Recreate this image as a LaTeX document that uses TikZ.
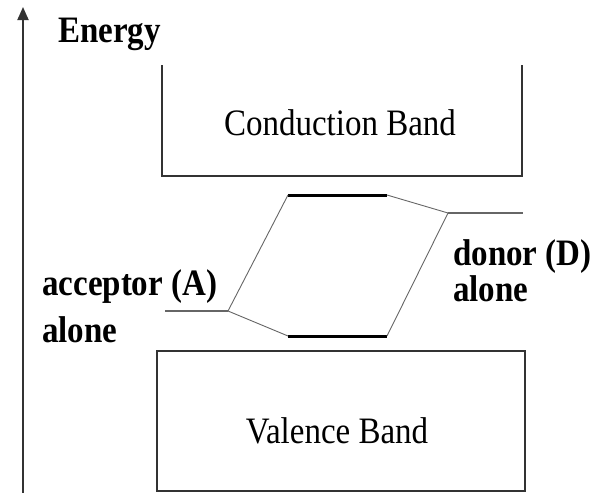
\documentclass[tikz,border=0pt]{standalone}
\usepackage{fontspec}
\setmainfont{Liberation Serif}
\usetikzlibrary{arrows.meta}
\definecolor{edge}{HTML}{333333}
\definecolor{thin}{HTML}{666666}
\newcommand{\tallt}[1]{\scalebox{1}[1.13]{#1}}

\begin{document}
\begin{tikzpicture}[x=1pt,y=-1pt,
txt/.style={inner sep=0pt,anchor=base,font=\fontsize{33}{40}\selectfont},
lbl/.style={inner sep=0pt,anchor=base west,font=\fontsize{33}{40}\selectfont\bfseries},
band/.style={draw=edge,line width=1.8pt},
level/.style={draw=thin,line width=1.5pt},
bond/.style={draw=black,line width=3pt},
link/.style={draw=thin,line width=0.9pt},
axis/.style={-{Triangle[length=13pt,width=11pt]},draw=edge,line width=1.8pt}]
\useasboundingbox (0,0) rectangle (595,493);
% energy axis
\coordinate (ax0) at (23,493);
\coordinate (ax1) at (23,7);
\draw[axis] (ax0)--(ax1);
\node[lbl] (energy) at (58,42) {\tallt{Energy}};
% bands
\draw[band] (162,65) |- (522,176) -- (522,65);
\node[txt] (cb) at (340,135) {\tallt{Conduction Band}};
\draw[band] (157,351) rectangle (525,491);
\node[txt] (vb) at (337,443) {\tallt{Valence Band}};
% levels
\coordinate (accL) at (165,311); \coordinate (accR) at (228,311);
\coordinate (donL) at (448,213); \coordinate (donR) at (523,213);
\coordinate (upL) at (288,195); \coordinate (upR) at (387,195);
\coordinate (loL) at (288,336); \coordinate (loR) at (387,336);
\draw[level] (accL)--(accR); \draw[level] (donL)--(donR);
\draw[bond] (upL)--(upR); \draw[bond] (loL)--(loR);
\draw[link] (accR)--(upL); \draw[link] (accR)--(loL);
\draw[link] (donL)--(upR); \draw[link] (donL)--(loR);
% labels
\node[lbl] (acc) at (42,295) {\tallt{acceptor (A)}};
\node[lbl] (acc2) at (42,342) {\tallt{alone}};
\node[lbl] (don) at (453,265) {\tallt{donor (D)}};
\node[lbl] (don2) at (453,301) {\tallt{alone}};
\end{tikzpicture}
\end{document}
